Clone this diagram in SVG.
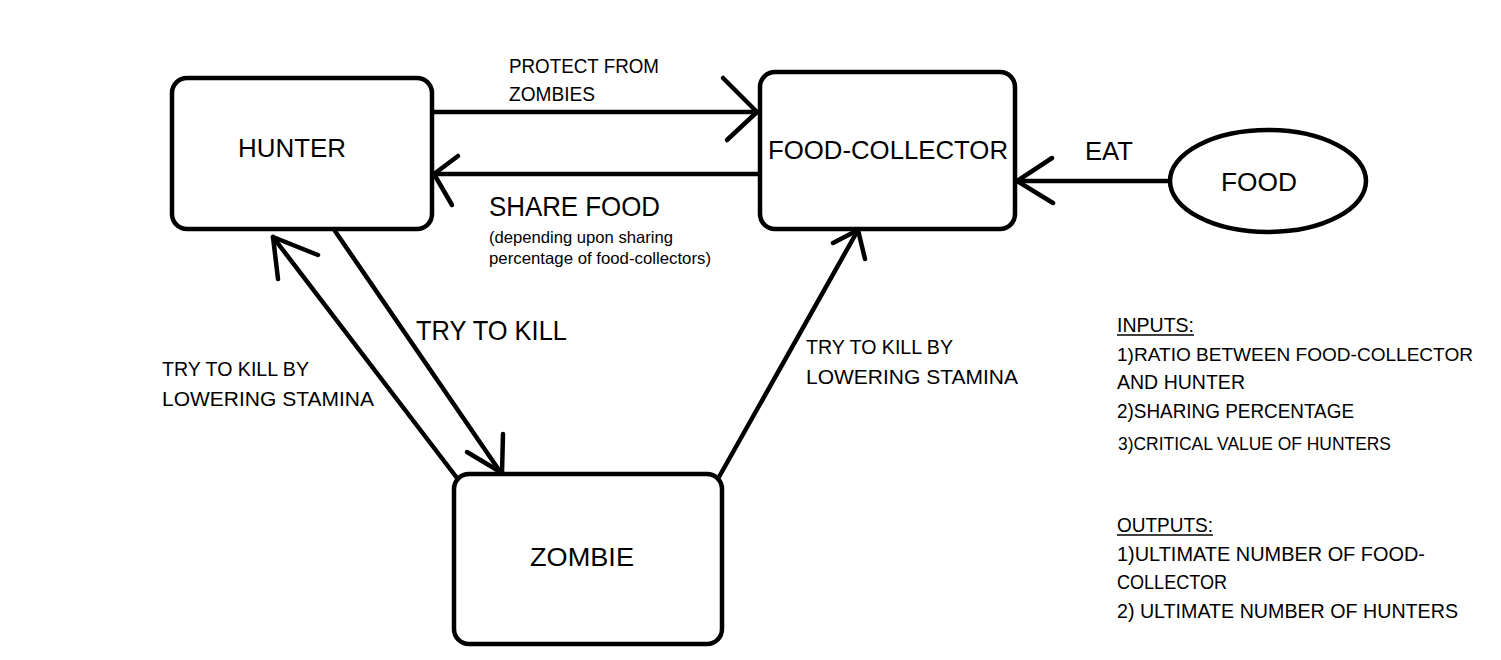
<svg xmlns="http://www.w3.org/2000/svg" width="1501" height="660" viewBox="0 0 1501 660">
<style>
.box{fill:#fff;stroke:#000;stroke-width:4.5}
.ln{fill:none;stroke:#000;stroke-width:4.5;stroke-linecap:round;stroke-linejoin:round}
text{font-family:"Liberation Sans",Arial,sans-serif;fill:#000}
.lg{font-size:26px}
.xl{font-size:28px}
.sm{font-size:21px}
.xs{font-size:16.5px}
.ul{fill:none;stroke:#000;stroke-width:1.5}
</style>
<rect width="1501" height="660" fill="#fff"/>
<g id="connectors">
  <g id="e-hunter-fc">
    <line class="ln" x1="432" y1="112" x2="757" y2="112"/>
    <polyline class="ln" points="723,78 757,112 727,140"/>
  </g>
  <g id="e-fc-hunter">
    <line class="ln" x1="760" y1="174" x2="434" y2="174"/>
    <polyline class="ln" points="458,156 434,174 452,205"/>
  </g>
  <g id="e-food-fc">
    <line class="ln" x1="1170" y1="181" x2="1017" y2="181"/>
    <polyline class="ln" points="1052,158 1017,181 1053,203"/>
  </g>
  <g id="e-hunter-zombie">
    <line class="ln" x1="335" y1="231" x2="501" y2="473"/>
    <polyline class="ln" points="503,434 502,473 467,452"/>
  </g>
  <g id="e-zombie-hunter">
    <line class="ln" x1="457" y1="478" x2="273" y2="237"/>
    <polyline class="ln" points="278,279 273,237 318,255"/>
  </g>
  <g id="e-zombie-fc">
    <line class="ln" x1="719" y1="477" x2="858" y2="230"/>
    <polyline class="ln" points="833,243 858,230 865,259"/>
  </g>
</g>
<g id="hunter">
  <rect class="box" x="172" y="78" width="260" height="151" rx="15"/>
  <text class="lg" x="238" y="157" textLength="108" lengthAdjust="spacingAndGlyphs">HUNTER</text>
</g>
<g id="food-collector">
  <rect class="box" x="760" y="72" width="255" height="157" rx="15"/>
  <text class="lg" x="768" y="159" textLength="240" lengthAdjust="spacingAndGlyphs">FOOD-COLLECTOR</text>
</g>
<g id="food">
  <ellipse class="box" cx="1268" cy="181" rx="98" ry="51"/>
  <text class="lg" x="1221" y="191" textLength="76" lengthAdjust="spacingAndGlyphs">FOOD</text>
</g>
<g id="zombie">
  <rect class="box" x="454" y="474" width="268" height="170" rx="15"/>
  <text class="lg" x="530" y="566" textLength="104" lengthAdjust="spacingAndGlyphs">ZOMBIE</text>
</g>
<g id="labels">
  <text class="sm" x="509" y="73" textLength="150" lengthAdjust="spacingAndGlyphs">PROTECT FROM</text>
  <text class="sm" x="509" y="101" textLength="86" lengthAdjust="spacingAndGlyphs">ZOMBIES</text>
  <text class="lg" x="1085" y="160" textLength="48" lengthAdjust="spacingAndGlyphs">EAT</text>
  <text class="xl" x="489" y="216" textLength="171" lengthAdjust="spacingAndGlyphs">SHARE FOOD</text>
  <text class="xs" x="489" y="243" textLength="184" lengthAdjust="spacingAndGlyphs">(depending upon sharing</text>
  <text class="xs" x="489" y="264" textLength="222" lengthAdjust="spacingAndGlyphs">percentage of food-collectors)</text>
  <text class="xl" x="416" y="340" textLength="151" lengthAdjust="spacingAndGlyphs">TRY TO KILL</text>
  <text class="sm" x="162" y="376" textLength="147" lengthAdjust="spacingAndGlyphs">TRY TO KILL BY</text>
  <text class="sm" x="162" y="406" textLength="212" lengthAdjust="spacingAndGlyphs">LOWERING STAMINA</text>
  <text class="sm" x="806" y="354" textLength="147" lengthAdjust="spacingAndGlyphs">TRY TO KILL BY</text>
  <text class="sm" x="806" y="384" textLength="212" lengthAdjust="spacingAndGlyphs">LOWERING STAMINA</text>
</g>
<g id="notes">
  <text class="sm" x="1117" y="332" textLength="77" lengthAdjust="spacingAndGlyphs">INPUTS:</text>
  <line class="ul" x1="1117" y1="335" x2="1194" y2="335"/>
  <text x="1117" y="361" font-size="19" textLength="356" lengthAdjust="spacingAndGlyphs">1)RATIO BETWEEN FOOD-COLLECTOR</text>
  <text class="sm" x="1117" y="389" textLength="128" lengthAdjust="spacingAndGlyphs">AND HUNTER</text>
  <text class="sm" x="1117" y="418" textLength="237" lengthAdjust="spacingAndGlyphs">2)SHARING PERCENTAGE</text>
  <text x="1118" y="450" font-size="19" textLength="273" lengthAdjust="spacingAndGlyphs">3)CRITICAL VALUE OF HUNTERS</text>
  <text class="sm" x="1117" y="532" textLength="96" lengthAdjust="spacingAndGlyphs">OUTPUTS:</text>
  <line class="ul" x1="1117" y1="535" x2="1213" y2="535"/>
  <text class="sm" x="1117" y="561" textLength="308" lengthAdjust="spacingAndGlyphs">1)ULTIMATE NUMBER OF FOOD-</text>
  <text class="sm" x="1117" y="589" textLength="110" lengthAdjust="spacingAndGlyphs">COLLECTOR</text>
  <text class="sm" x="1117" y="618" textLength="341" lengthAdjust="spacingAndGlyphs">2) ULTIMATE NUMBER OF HUNTERS</text>
</g>
</svg>
